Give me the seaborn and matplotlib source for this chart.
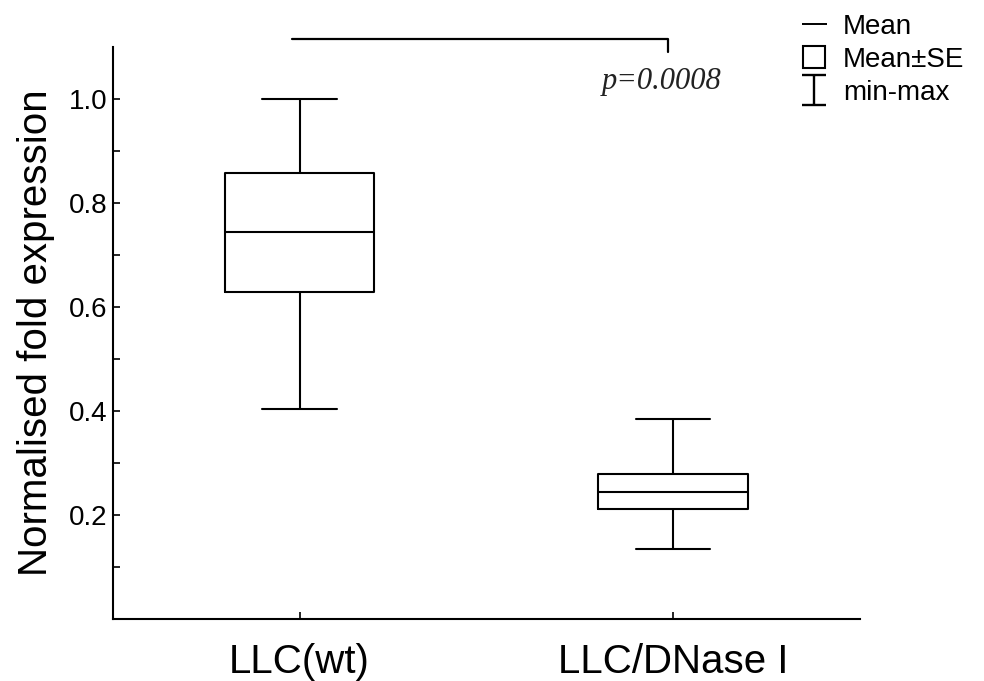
import matplotlib
matplotlib.use("Agg")
import matplotlib.pyplot as plt
from matplotlib.lines import Line2D
from matplotlib.path import Path
import seaborn as sns
import pandas as pd

# ---- data ----
categories = ["LLC(wt)", "LLC/DNase I"]
minimum = [0.404, 0.134]
mean_minus_se = [0.629, 0.212]
mean = [0.744, 0.245]
mean_plus_se = [0.858, 0.279]
maximum = [1.000, 0.385]
p_text = "p=0.0008"
y_ticks = [0.2, 0.4, 0.6, 0.8, 1.0]
y_minor = [0.1, 0.3, 0.5, 0.7, 0.9]

# five summary values per group; with whis=(0,100) the box spans mean±SE,
# the centre line is the mean and whiskers reach min/max
rows = []
for i, c in enumerate(categories):
    for v in (minimum[i], mean_minus_se[i], mean[i], mean_plus_se[i], maximum[i]):
        rows.append({"group": c, "value": v})
df = pd.DataFrame(rows)

sns.set_style("ticks")
plt.rcParams["font.family"] = ["Liberation Sans", "DejaVu Sans"]
plt.rcParams["text.color"] = "black"
plt.rcParams["axes.labelcolor"] = "black"

fig = plt.figure(figsize=(9.84, 6.81), dpi=100)
ax = fig.add_axes([0.1148, 0.091, 0.759, 0.840])

lw = 1.5
sns.boxplot(data=df, x="group", y="value", order=categories, whis=(0, 100),
            width=0.4, fill=False, color="black", linecolor="black",
            linewidth=lw, showfliers=False, ax=ax,
            medianprops=dict(color="black", linewidth=lw))

ax.set_xlim(-0.5, 1.5)
ax.set_ylim(0.0, 1.1)
ax.set_yticks(y_ticks)
ax.set_yticklabels([f"{t:.1f}" for t in y_ticks])
ax.set_yticks(y_minor, minor=True)
ax.set_xlabel("")
ax.set_ylabel("Normalised fold expression", fontsize=29, labelpad=10, color="black")

for s in ("top", "right"):
    ax.spines[s].set_visible(False)
for s in ("left", "bottom"):
    ax.spines[s].set_linewidth(1.5)
    ax.spines[s].set_color("black")

ax.tick_params(axis="y", which="major", direction="in", length=5, width=1.2,
               labelsize=20, pad=4, colors="black")
ax.tick_params(axis="y", which="minor", direction="in", length=5, width=1.2,
               colors="black")
ax.tick_params(axis="x", which="major", direction="in", length=5, width=1.2,
               labelsize=29, pad=17, colors="black")

# significance bracket and p-value
br_x0, br_x1, br_y, br_drop = -0.02, 0.985, 1.115, 1.09
ax.plot([br_x0, br_x1, br_x1], [br_y, br_y, br_drop], color="black",
        linewidth=1.6, clip_on=False)
ax.text(0.97, 1.033, p_text, fontsize=22, style="italic",
        family=["Liberation Serif", "DejaVu Serif"], ha="center", va="center",
        color="#222222")

# legend
ibeam = Path([(-0.77, 1), (0.77, 1), (0, 1), (0, -1), (-0.77, -1), (0.77, -1)],
             [Path.MOVETO, Path.LINETO, Path.MOVETO, Path.LINETO, Path.MOVETO, Path.LINETO])
handles = [
    Line2D([], [], linestyle="none", marker="_", markersize=18, markeredgewidth=1.4,
           color="black"),
    Line2D([], [], linestyle="none", marker="s", markersize=16, markeredgewidth=1.5,
           markerfacecolor="none", markeredgecolor="black"),
    Line2D([], [], linestyle="none", marker=ibeam, markersize=22, markeredgewidth=1.7,
           markerfacecolor="none", markeredgecolor="black"),
]
fig.legend(handles, ["Mean", "Mean±SE", "min-max"], loc="upper left",
           bbox_to_anchor=(0.793, 1.008), frameon=False, fontsize=20,
           handlelength=1.0, handletextpad=0.55, labelspacing=0.25,
           borderpad=0.2)

fig.savefig("out.png", dpi=100)
